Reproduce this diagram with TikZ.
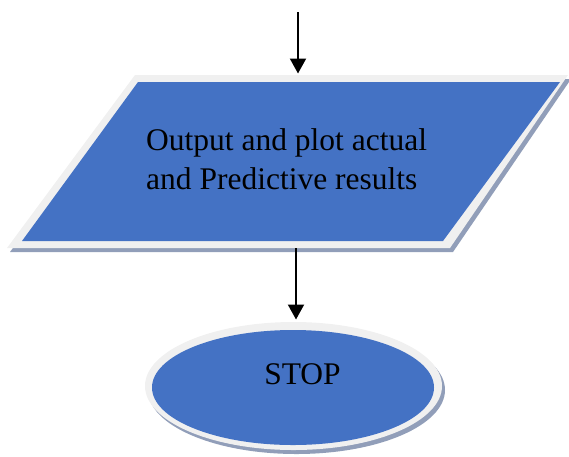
\documentclass[tikz,border=0pt]{standalone}
\usepackage{fontspec}
\setmainfont{Liberation Serif}
\usetikzlibrary{arrows.meta}
\definecolor{boxblue}{HTML}{4472C4}
\definecolor{rimgray}{HTML}{F0F0F0}
\definecolor{shadowcol}{RGB}{145,158,185}
\tikzset{
  arrowline/.style={line width=2pt, -{Triangle[length=15pt,width=16pt]}},
  labeltext/.style={font=\fontsize{31.5}{38}\selectfont, inner sep=0pt, text=black},
}
\begin{document}
\begin{tikzpicture}[x=1pt,y=-1pt]
\useasboundingbox (0,0) rectangle (569,456);
% parallelogram (input/output)
\fill[shadowcol] (138,79) -- (571,79) -- (453,252) -- (10,252) -- cycle;
\fill[rimgray] (135,75) -- (568,75) -- (450,248) -- (7,248) -- cycle;
\fill[boxblue] (138,82) -- (560,82) -- (443,241) -- (22,241) -- cycle;
% terminator ellipse
\fill[shadowcol] (296.5,390) ellipse [x radius=148.5, y radius=64];
\fill[rimgray] (293.5,386) ellipse [x radius=148.5, y radius=64];
\fill[boxblue] (293,387.5) ellipse [x radius=141, y radius=57.5];
% texts
\node[labeltext, anchor=base west] (l1) at (146,150.7) {Output and plot actual};
\node[labeltext, anchor=base west] (l2) at (146,189) {and Predictive results};
\node[labeltext, anchor=base] (stop) at (302.5,384) {STOP};
% connectors
\coordinate (entry) at (298,12);
\coordinate (ptop) at (298,73.5);
\coordinate (pbot) at (296,248);
\coordinate (etop) at (296,319.5);
\draw[arrowline] (entry) -- (ptop);
\draw[arrowline] (pbot) -- (etop);
\end{tikzpicture}
\end{document}
